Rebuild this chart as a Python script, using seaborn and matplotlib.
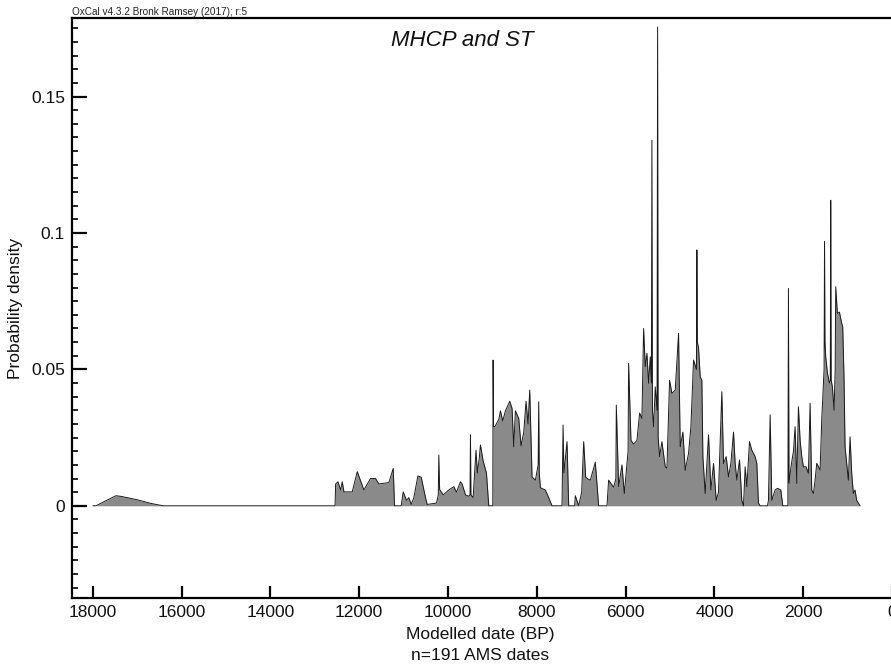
import matplotlib
matplotlib.use("Agg")
import matplotlib.pyplot as plt
from matplotlib.ticker import MultipleLocator, FixedLocator, FixedFormatter
import seaborn as sns
import pandas as pd

# ---- data ----
dates_bp = [
    18000, 17930, 17750, 17480, 17350, 17000, 16700, 16450, 16400,
    12545, 12532, 12480, 12420, 12383, 12345, 12158, 12045, 11895, 11745,
    11633, 11558, 11333, 11235, 11205, 11055, 11010, 10935, 10883, 10830,
    10770, 10680, 10605, 10508, 10470, 10260, 10220, 10208, 10190, 10110,
    9983, 9870, 9810, 9720, 9683, 9608, 9533, 9505, 9495, 9485, 9435, 9370,
    9340, 9300, 9270, 9210, 9135, 9083, 8992, 8985, 8975, 8946, 8856, 8820,
    8768, 8708, 8610, 8558, 8520, 8483, 8408, 8355, 8295, 8243, 8198, 8160,
    8108, 8033, 7970, 7958, 7945, 7920, 7808, 7733, 7658, 7433, 7409, 7390,
    7320, 7283, 7150, 7133, 7058, 6990, 6945, 6900, 6870, 6795, 6683, 6608,
    6420, 6383, 6270, 6220, 6210, 6158, 6083, 6030, 5945, 5933, 5880, 5820,
    5745, 5685, 5633, 5595, 5558, 5520, 5483, 5445, 5420, 5408, 5396, 5370,
    5333, 5292, 5280, 5268, 5235, 5183, 5108, 5070, 5010, 4958, 4883, 4808,
    4770, 4710, 4658, 4583, 4530, 4470, 4405, 4395, 4385, 4358, 4320, 4283,
    4260, 4208, 4133, 4080, 4020, 3960, 3908, 3833, 3795, 3735, 3683, 3630,
    3570, 3533, 3495, 3435, 3383, 3345, 3308, 3270, 3210, 3158, 3083, 3045,
    3008, 2970, 2805, 2783, 2745, 2708, 2633, 2580, 2505, 2460, 2345, 2333,
    2320, 2270, 2220, 2183, 2145, 2108, 2070, 2033, 1995, 1935, 1883, 1845,
    1808, 1770, 1733, 1695, 1620, 1583, 1545, 1530, 1520, 1510, 1493, 1455,
    1410, 1390, 1380, 1370, 1343, 1305, 1280, 1268, 1230, 1185, 1133, 1110,
    1080, 1058, 1020, 983, 945, 908, 870, 833, 795, 720,
]
density = [
    0, 0, 0.0015, 0.0037, 0.0034, 0.0022, 0.0009, 0.0001, 0,
    0, 0.0080, 0.0088, 0.0058, 0.0088, 0.0051, 0.0051, 0.0125, 0.0058, 0.0100,
    0.0100, 0.0080, 0.0085, 0.0137, 0, 0, 0.0051, 0.0020, 0.0030, 0.0005,
    0.0030, 0.0109, 0.0105, 0.0030, 0.0005, 0.0010, 0.0040, 0.0186, 0.0060, 0.0040,
    0.0058, 0.0070, 0.0050, 0.0088, 0.0080, 0.0040, 0.0035, 0.0040, 0.0260, 0.0040, 0.0030, 0.0204,
    0.0120, 0.0170, 0.0223, 0.0165, 0.0120, 0, 0, 0.0534, 0.0290, 0.0290, 0.0317, 0.0348,
    0.0311, 0.0348, 0.0383, 0.0357, 0.0216, 0.0348, 0.0320, 0.0220, 0.0270, 0.0383, 0.0300, 0.0424,
    0.0106, 0.0094, 0.0150, 0.0381, 0.0120, 0.0066, 0.0058, 0.0030, 0, 0, 0.0296, 0.0120,
    0.0235, 0, 0, 0.0037, 0, 0.0050, 0.0235, 0.0106, 0.0100, 0.0094, 0.0160, 0,
    0, 0.0094, 0.0068, 0.0100, 0.0369, 0.0070, 0.0150, 0.0045, 0.0200, 0.0522, 0.0240, 0.0226,
    0.0240, 0.0340, 0.0320, 0.0650, 0.0510, 0.0559, 0.0449, 0.0546, 0.0450, 0.1340, 0.0350, 0.0290,
    0.0436, 0.0350, 0.1755, 0.0250, 0.0180, 0.0235, 0.0143, 0.0138, 0.0460, 0.0412, 0.0424, 0.0632,
    0.0216, 0.0270, 0.0130, 0.0192, 0.0290, 0.0534, 0.0500, 0.0938, 0.0600, 0.0580, 0.0473, 0.0460,
    0.0180, 0.0045, 0.0260, 0.0058, 0.0155, 0.0020, 0.0050, 0.0418, 0.0155, 0.0180, 0.0106, 0.0155,
    0.0270, 0.0155, 0.0094, 0.0168, 0.0020, 0, 0.0143, 0.0070, 0.0235, 0.0204, 0.0180, 0.0155,
    0.0010, 0, 0, 0.0020, 0.0333, 0.0020, 0.0058, 0.0064, 0.0058, 0, 0, 0.0797,
    0.0083, 0.0150, 0.0200, 0.0290, 0.0082, 0.0363, 0.0240, 0.0180, 0.0143, 0.0143, 0.0119, 0.0376,
    0.0058, 0.0045, 0.0094, 0.0156, 0.0131, 0.0314, 0.0450, 0.0500, 0.0968, 0.0600, 0.0546, 0.0487,
    0.0450, 0.0460, 0.1120, 0.0460, 0.0436, 0.0350, 0.0500, 0.0803, 0.0705, 0.0710, 0.0669, 0.0656,
    0.0460, 0.0216, 0.0155, 0.0094, 0.0253, 0.0119, 0.0045, 0.0058, 0.0020, 0,
]
x_ticks = [18000, 16000, 14000, 12000, 10000, 8000, 6000, 4000, 2000, 0]
y_ticks = [0, 0.05, 0.1, 0.15]
y_tick_labels = ["0", "0.05", "0.1", "0.15"]

df = pd.DataFrame({"date": dates_bp, "density": density})

sns.set_style("white")
plt.rcParams["font.family"] = ["Liberation Sans", "DejaVu Sans"]

W, H = 891, 665
fig = plt.figure(figsize=(W / 100, H / 100), dpi=100)
left_px, right_px, top_px, bottom_px = 72, 892.9, 18, 598
ax = fig.add_axes([left_px / W, 1 - bottom_px / H,
                   (right_px - left_px) / W, (bottom_px - top_px) / H])

ax.fill_between(df["date"], df["density"], 0, color="#8a8a8a", lw=0, zorder=2)
sns.lineplot(data=df, x="date", y="density", color="#1a1a1a", lw=0.7,
             ax=ax, zorder=3, sort=False)

ax.set_xlim(18470, -20)
ax.set_ylim(-0.0338, 0.1788)

ax.xaxis.set_major_locator(FixedLocator(x_ticks))
ax.set_xticklabels([str(t) for t in x_ticks])
ax.yaxis.set_major_locator(FixedLocator(y_ticks))
ax.yaxis.set_major_formatter(FixedFormatter(y_tick_labels))
ax.yaxis.set_minor_locator(MultipleLocator(0.005))

ax.tick_params(axis="x", which="major", bottom=True, top=False,
               direction="in", length=8.5, width=1.6, labelsize=12.5,
               color="black", labelcolor="#111111", pad=5)
ax.tick_params(axis="y", which="major", left=True, right=False,
               direction="in", length=11, width=1.6, labelsize=12.5,
               color="black", labelcolor="#111111", pad=5)
ax.tick_params(axis="y", which="minor", left=True, right=False,
               direction="in", length=4, width=1.2, color="black")
ax.tick_params(axis="x", which="minor", bottom=False, top=False, length=0)

for side in ["left", "bottom", "top", "right"]:
    ax.spines[side].set_visible(True)
    ax.spines[side].set_linewidth(1.6)
    ax.spines[side].set_color("black")

ax.set_xlabel("")
ax.set_ylabel("Probability density", fontsize=12.5, labelpad=6, color="#111111")

fig.text(462 / W, 1 - 40 / H, "MHCP and ST", fontsize=16, style="italic",
         ha="center", va="center", color="#111111")
fig.text(72 / W, 1 - 12 / H, "OxCal v4.3.2 Bronk Ramsey (2017); r:5",
         fontsize=7.2, ha="left", va="center", color="#222222")
fig.text(480 / W, 1 - 635 / H, "Modelled date (BP)", fontsize=12.5,
         ha="center", va="center", color="#111111")
fig.text(480 / W, 1 - 655 / H, "n=191 AMS dates", fontsize=12.5,
         ha="center", va="center", color="#111111")

fig.savefig("out.png", dpi=100)
